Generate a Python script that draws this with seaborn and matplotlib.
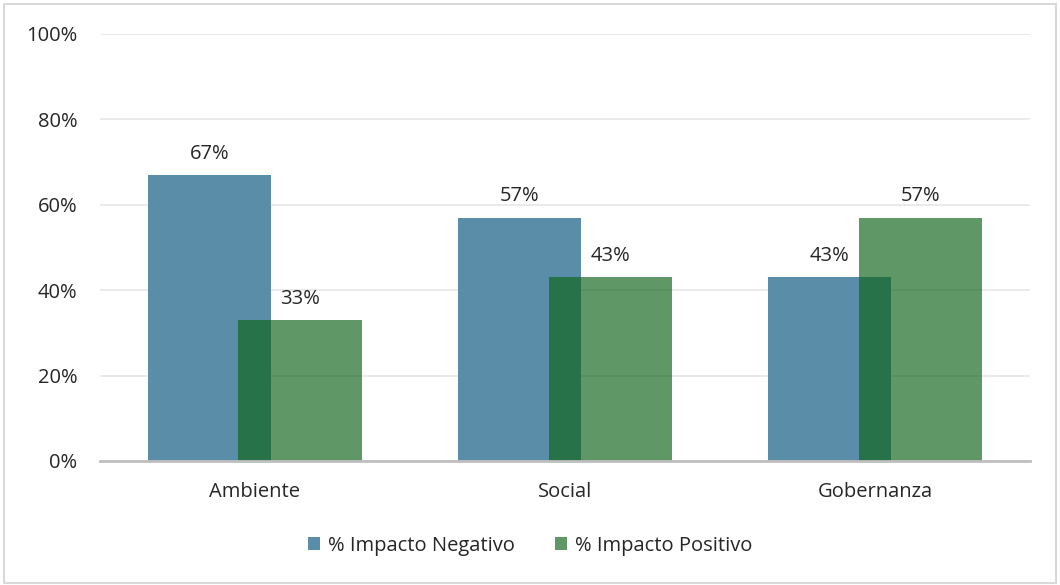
import pandas as pd
import numpy as np
import matplotlib.pyplot as plt
import matplotlib.patches as mpatches
import seaborn as sns

categories = ["Ambiente", "Social", "Gobernanza"]
negativo = [67, 57, 43]
positivo = [33, 43, 57]
series = ["% Impacto Negativo", "% Impacto Positivo"]

df = pd.DataFrame({
    "cat": categories * 2,
    "serie": [series[0]] * 3 + [series[1]] * 3,
    "val": negativo + positivo,
})

sns.set_style("white")
plt.rcParams["font.family"] = ["Open Sans", "DejaVu Sans"]

fig = plt.figure(figsize=(10.6, 5.85), dpi=100)
ax = fig.add_axes([0.094, 0.212, 0.878, 0.73])

colors = {series[0]: "#5a8ea8", series[1]: "#10651b"}
sns.barplot(data=df, x="cat", y="val", hue="serie", palette=colors,
            dodge=True, width=0.8, ax=ax, legend=False, saturation=1)

# Excel style overlap: move bars closer together and make them wider
bar_w = 0.397
off = 0.146
fs = 14.5
for i, p in enumerate(ax.patches):
    cx = p.get_x() + p.get_width() / 2
    center = round(cx)
    if i < 3:
        p.set_x(center - off - bar_w / 2)
    else:
        p.set_x(center + off - bar_w / 2)
        p.set_alpha(0.67)
    p.set_width(bar_w)
    p.set_edgecolor("none")
    ax.annotate(f"{p.get_height():.0f}%", (p.get_x() + bar_w / 2, p.get_height()),
                xytext=(0, 8), textcoords="offset points", ha="center", va="bottom",
                fontsize=fs, color="#262626")

ax.set_xlim(-0.5, 2.5)
ax.set_ylim(0, 100)
ax.set_yticks(np.arange(0, 101, 20))
ax.set_yticklabels([f"{v}%" for v in range(0, 101, 20)])
ax.set_xlabel("")
ax.set_ylabel("")
ax.yaxis.grid(True, color="#e6e6e6", linewidth=1.2)
ax.set_axisbelow(True)
for s in ["top", "right", "left"]:
    ax.spines[s].set_visible(False)
ax.spines["bottom"].set_color("#bfbfbf")
ax.spines["bottom"].set_linewidth(2)
ax.tick_params(axis="y", length=0, pad=16, labelsize=fs, labelcolor="#262626")
ax.tick_params(axis="x", length=0, pad=15, labelsize=fs, labelcolor="#262626")

handles = [mpatches.Patch(facecolor="#5a8ea8", edgecolor="none", label=series[0]),
           mpatches.Patch(facecolor="#10651b", edgecolor="none", alpha=0.67, label=series[1])]
fig.legend(handles=handles, loc="center", bbox_to_anchor=(0.5, 0.067), ncol=2,
           frameon=False, fontsize=fs, handlelength=0.6, handleheight=0.6,
           handletextpad=0.4, columnspacing=2.0, labelcolor="#262626")

fig.patches.append(mpatches.Rectangle((0.004, 0.004), 0.992, 0.99, transform=fig.transFigure,
                                      fill=False, edgecolor="#d9d9d9", linewidth=1.5))

fig.savefig("out.png", dpi=100)
